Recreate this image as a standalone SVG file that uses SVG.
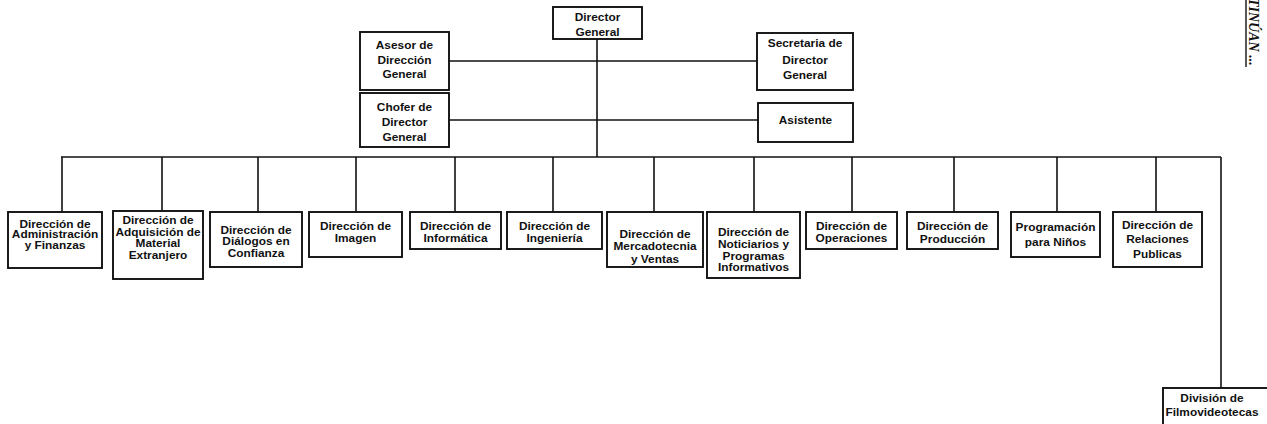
<svg xmlns="http://www.w3.org/2000/svg" width="1267" height="424" viewBox="0 0 1267 424">
  <style>
    .box { fill: #ffffff; stroke: #111111; stroke-width: 1.9; }
    .lbl { font-family: "Liberation Sans", Arial, sans-serif; font-weight: bold; font-size: 10.6px; fill: #111111; text-anchor: middle; }
    .wire { stroke: #111111; stroke-width: 1.6; fill: none; }
    .note { font-family: "Liberation Serif", "Times New Roman", serif; font-style: italic; font-weight: bold; font-size: 14px; fill: #111111; }
  </style>
  <rect x="0" y="0" width="1267" height="424" fill="#ffffff"/>

  <!-- connectors -->
  <g id="connectors" class="wire">
    <line x1="597" y1="39" x2="597" y2="157"/>
    <line x1="449" y1="61" x2="757" y2="61"/>
    <line x1="449" y1="120" x2="758" y2="120"/>
    <line x1="61" y1="157" x2="1221" y2="157"/>
    <line x1="62" y1="157" x2="62" y2="212"/>
    <line x1="162" y1="157" x2="162" y2="211"/>
    <line x1="258" y1="157" x2="258" y2="212"/>
    <line x1="356" y1="157" x2="356" y2="212"/>
    <line x1="455" y1="157" x2="455" y2="212"/>
    <line x1="553" y1="157" x2="553" y2="212"/>
    <line x1="654" y1="157" x2="654" y2="212"/>
    <line x1="754" y1="157" x2="754" y2="212"/>
    <line x1="852" y1="157" x2="852" y2="212"/>
    <line x1="954" y1="157" x2="954" y2="212"/>
    <line x1="1057" y1="157" x2="1057" y2="212"/>
    <line x1="1156" y1="157" x2="1156" y2="212"/>
    <line x1="1221" y1="157" x2="1221" y2="388"/>
  </g>

  <!-- top level (labels are set in a slightly widened face) -->
  <g id="director-general">
    <rect class="box" x="553" y="7" width="89" height="32"/>
    <g transform="translate(597.5 0) scale(1.12 1)">
      <text class="lbl" x="0" y="21">Director</text>
      <text class="lbl" x="0" y="36">General</text>
    </g>
  </g>
  <g id="asesor">
    <rect class="box" x="360" y="32" width="89" height="58"/>
    <g transform="translate(404.5 0) scale(1.12 1)">
      <text class="lbl" x="0" y="49">Asesor de</text>
      <text class="lbl" x="0" y="64">Dirección</text>
      <text class="lbl" x="0" y="78">General</text>
    </g>
  </g>
  <g id="secretaria">
    <rect class="box" x="757" y="33" width="96" height="57"/>
    <g transform="translate(805 0) scale(1.12 1)">
      <text class="lbl" x="0" y="47">Secretaria de</text>
      <text class="lbl" x="0" y="64">Director</text>
      <text class="lbl" x="0" y="79">General</text>
    </g>
  </g>
  <g id="chofer">
    <rect class="box" x="360" y="93" width="89" height="54"/>
    <g transform="translate(404.5 0) scale(1.12 1)">
      <text class="lbl" x="0" y="111">Chofer de</text>
      <text class="lbl" x="0" y="126">Director</text>
      <text class="lbl" x="0" y="141">General</text>
    </g>
  </g>
  <g id="asistente">
    <rect class="box" x="758" y="103" width="95" height="39"/>
    <g transform="translate(805.5 0) scale(1.12 1)">
      <text class="lbl" x="0" y="124">Asistente</text>
    </g>
  </g>

  <!-- directorates -->
  <g id="administracion">
    <rect class="box" x="8" y="212" width="94" height="56"/>
    <g transform="translate(55 0) scale(1.12 1)">
      <text class="lbl" x="0" y="228">Dirección de</text>
      <text class="lbl" x="0" y="238.5">Administración</text>
      <text class="lbl" x="0" y="249">y Finanzas</text>
    </g>
  </g>
  <g id="adquisicion">
    <rect class="box" x="113" y="211" width="90" height="68"/>
    <g transform="translate(158 0) scale(1.12 1)">
      <text class="lbl" x="0" y="224">Dirección de</text>
      <text class="lbl" x="0" y="236">Adquisición de</text>
      <text class="lbl" x="0" y="247">Material</text>
      <text class="lbl" x="0" y="259">Extranjero</text>
    </g>
  </g>
  <g id="dialogos">
    <rect class="box" x="210" y="212" width="92" height="55"/>
    <g transform="translate(256 0) scale(1.12 1)">
      <text class="lbl" x="0" y="234">Dirección de</text>
      <text class="lbl" x="0" y="245">Diálogos en</text>
      <text class="lbl" x="0" y="257">Confianza</text>
    </g>
  </g>
  <g id="imagen">
    <rect class="box" x="309" y="212" width="93" height="45"/>
    <g transform="translate(355.5 0) scale(1.12 1)">
      <text class="lbl" x="0" y="230">Dirección de</text>
      <text class="lbl" x="0" y="242">Imagen</text>
    </g>
  </g>
  <g id="informatica">
    <rect class="box" x="410" y="212" width="91" height="37"/>
    <g transform="translate(455.5 0) scale(1.12 1)">
      <text class="lbl" x="0" y="230">Dirección de</text>
      <text class="lbl" x="0" y="242">Informática</text>
    </g>
  </g>
  <g id="ingenieria">
    <rect class="box" x="507" y="212" width="95" height="37"/>
    <g transform="translate(554.5 0) scale(1.12 1)">
      <text class="lbl" x="0" y="230">Dirección de</text>
      <text class="lbl" x="0" y="242">Ingeniería</text>
    </g>
  </g>
  <g id="mercadotecnia">
    <rect class="box" x="607" y="212" width="96" height="55"/>
    <g transform="translate(655 0) scale(1.12 1)">
      <text class="lbl" x="0" y="238">Dirección de</text>
      <text class="lbl" x="0" y="250.5">Mercadotecnia</text>
      <text class="lbl" x="0" y="263">y Ventas</text>
    </g>
  </g>
  <g id="noticiarios">
    <rect class="box" x="707" y="212" width="93" height="66"/>
    <g transform="translate(753.5 0) scale(1.12 1)">
      <text class="lbl" x="0" y="236">Dirección de</text>
      <text class="lbl" x="0" y="248">Noticiarios y</text>
      <text class="lbl" x="0" y="260">Programas</text>
      <text class="lbl" x="0" y="271">Informativos</text>
    </g>
  </g>
  <g id="operaciones">
    <rect class="box" x="806" y="212" width="91" height="37"/>
    <g transform="translate(851.5 0) scale(1.12 1)">
      <text class="lbl" x="0" y="230">Dirección de</text>
      <text class="lbl" x="0" y="242">Operaciones</text>
    </g>
  </g>
  <g id="produccion">
    <rect class="box" x="907" y="212" width="91" height="37"/>
    <g transform="translate(952.5 0) scale(1.12 1)">
      <text class="lbl" x="0" y="230">Dirección de</text>
      <text class="lbl" x="0" y="243">Producción</text>
    </g>
  </g>
  <g id="programacion-ninos">
    <rect class="box" x="1011" y="212" width="89" height="45"/>
    <g transform="translate(1055.5 0) scale(1.12 1)">
      <text class="lbl" x="0" y="231">Programación</text>
      <text class="lbl" x="0" y="246">para Niños</text>
    </g>
  </g>
  <g id="relaciones-publicas">
    <rect class="box" x="1113" y="212" width="89" height="55"/>
    <g transform="translate(1157.5 0) scale(1.12 1)">
      <text class="lbl" x="0" y="229">Dirección de</text>
      <text class="lbl" x="0" y="243">Relaciones</text>
      <text class="lbl" x="0" y="258">Publicas</text>
    </g>
  </g>
  <g id="filmovideotecas">
    <rect class="box" x="1163" y="388" width="110" height="44"/>
    <g transform="translate(1212 0) scale(1.12 1)">
      <text class="lbl" x="0" y="402">División de</text>
      <text class="lbl" x="0" y="416">Filmovideotecas</text>
    </g>
  </g>

  <!-- running margin note -->
  <g id="margin-note">
    <line x1="1246" y1="0" x2="1246" y2="67" stroke="#111111" stroke-width="1.4"/>
    <text class="note" transform="translate(1249,-2) rotate(90)">TINÚAN ...</text>
  </g>
</svg>
